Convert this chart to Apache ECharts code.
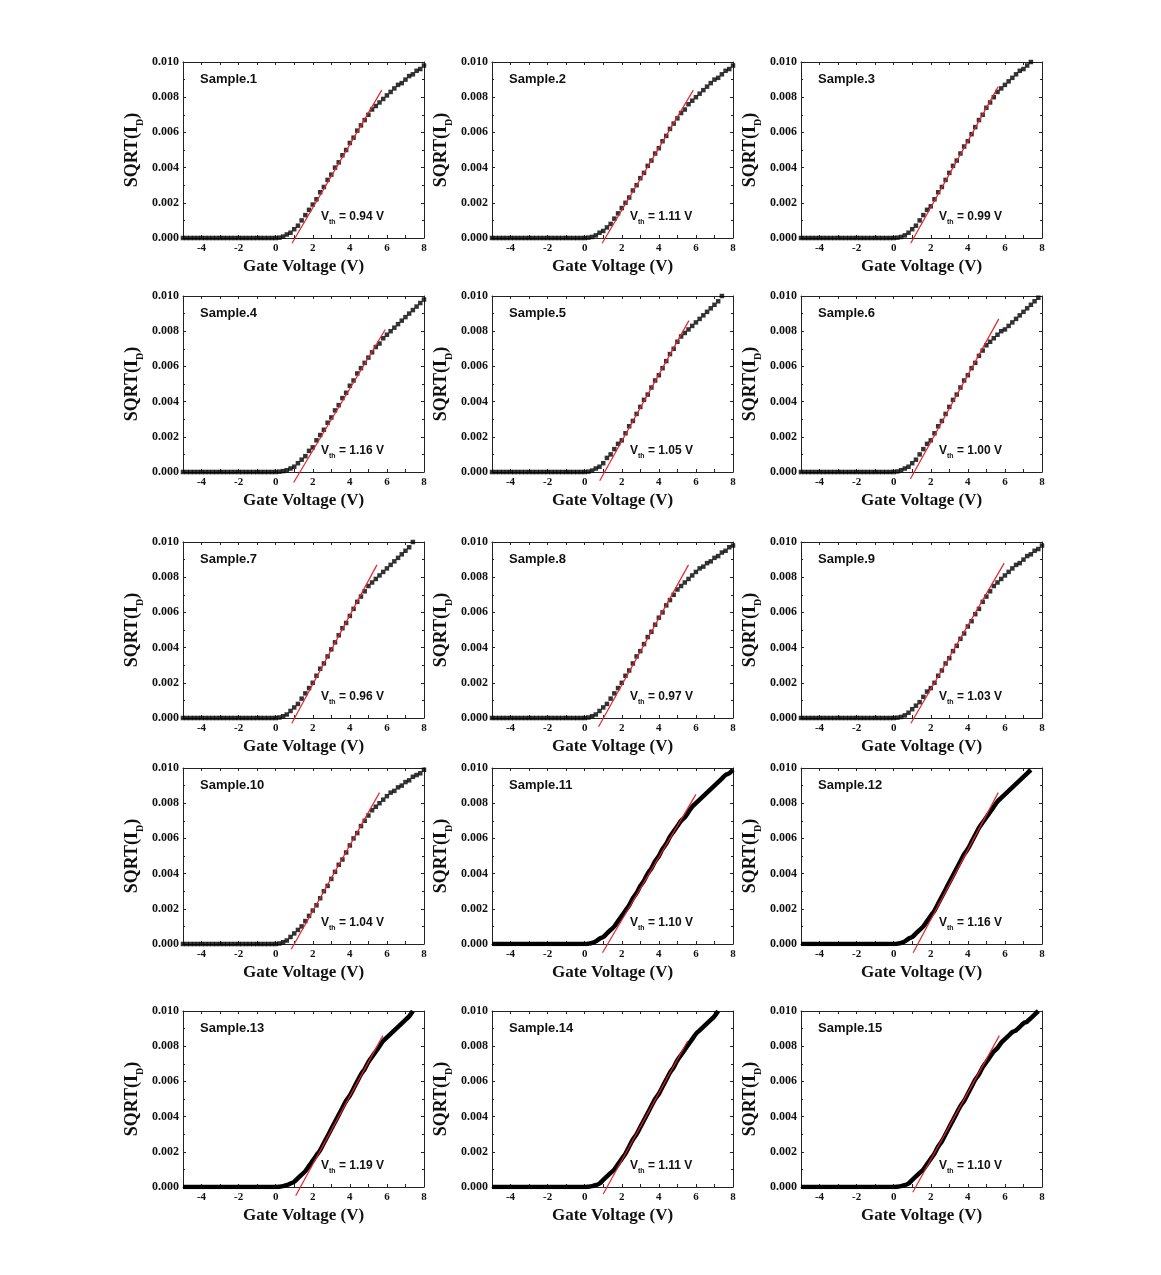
<!DOCTYPE html>
<html>
<head>
<meta charset="utf-8">
<script src="https://cdn.jsdelivr.net/npm/echarts@6/dist/echarts.min.js"></script>
<style>
html,body{margin:0;padding:0;background:#fff;}
#chart{width:1161px;height:1275px;}
</style>
</head>
<body>
<div id="chart"></div>
<script>
// ---------- DATA ----------
const sampleNames = ['Sample.1','Sample.2','Sample.3','Sample.4','Sample.5','Sample.6','Sample.7','Sample.8','Sample.9','Sample.10','Sample.11','Sample.12','Sample.13','Sample.14','Sample.15'];
const vthValues = ['0.94','1.11','0.99','1.16','1.05','1.00','0.96','0.97','1.03','1.04','1.10','1.16','1.19','1.11','1.10'];

const xTickLabels = [-4,-2,0,2,4,6,8];
const yTickLabels = [0.000,0.002,0.004,0.006,0.008,0.010];

// gate voltage grid (V)
const gateVoltage = [-5,-4.8,-4.6,-4.4,-4.2,-4,-3.8,-3.6,-3.4,-3.2,-3,-2.8,-2.6,-2.4,-2.2,-2,-1.8,-1.6,-1.4,-1.2,-1,-0.8,-0.6,-0.4,-0.2,
  0,0.2,0.4,0.6,0.8,1,1.2,1.4,1.6,1.8,2,2.2,2.4,2.6,2.8,3,3.2,3.4,3.6,3.8,4,4.2,4.4,4.6,4.8,5,5.2,5.4,5.6,5.8,6,6.2,6.4,6.6,6.8,7,7.2,7.4,7.6,7.8,8];
// off-state SQRT(ID) for Vg = -5 ... -0.2 V (same for every sample)
const offState = [0,0,0,0,0,0,0,0,0,0,0,0,0,0,0,0,0,0,0,0,0,0,0,0,0];

// on-state SQRT(ID) for Vg = 0 ... 8 V (step 0.2 V)
const sample1 = [0,0.00002,0.00008,0.0002,0.0003,0.0005,0.0007,0.0010,0.0013,0.0016,0.0019,0.0022,0.0026,0.0029,0.0033,0.0036,0.0040,0.0043,0.0047,0.0050,0.0054,0.0057,0.0061,0.0064,0.0067,0.0070,0.0073,0.0075,0.0077,0.0079,0.0081,0.0083,0.0085,0.0087,0.0088,0.0090,0.0092,0.0093,0.0095,0.0096,0.0098];
const sample2 = [0,0.00002,0.00006,0.00015,0.0003,0.0004,0.0006,0.0008,0.0011,0.0014,0.0017,0.0020,0.0023,0.0027,0.0030,0.0034,0.0037,0.0041,0.0044,0.0048,0.0051,0.0055,0.0058,0.0062,0.0065,0.0068,0.0071,0.0073,0.0076,0.0078,0.0080,0.0082,0.0084,0.0086,0.0088,0.0090,0.0091,0.0093,0.0095,0.0096,0.0098];
const sample3 = [0,0.00002,0.00006,0.00015,0.0003,0.0005,0.0007,0.0010,0.0013,0.0016,0.0018,0.0022,0.0026,0.0029,0.0033,0.0037,0.0041,0.0044,0.0048,0.0052,0.0055,0.0059,0.0063,0.0067,0.0070,0.0074,0.0077,0.0080,0.0083,0.0085,0.0087,0.0089,0.0091,0.0093,0.0095,0.0096,0.0098,0.0100,null,null,null];
const sample4 = [0,0.00002,0.00005,0.0001,0.0002,0.0003,0.0005,0.0007,0.0009,0.0012,0.0014,0.0018,0.0021,0.0024,0.0028,0.0031,0.0035,0.0038,0.0042,0.0045,0.0049,0.0052,0.0056,0.0059,0.0062,0.0065,0.0068,0.0071,0.0073,0.0076,0.0078,0.0080,0.0082,0.0084,0.0086,0.0088,0.0090,0.0092,0.0094,0.0096,0.0098];
const sample5 = [0,0.00002,0.00008,0.0002,0.0003,0.0005,0.0008,0.0010,0.0013,0.0016,0.0018,0.0022,0.0026,0.0029,0.0033,0.0037,0.0041,0.0044,0.0048,0.0052,0.0055,0.0059,0.0063,0.0067,0.0070,0.0074,0.0077,0.0079,0.0081,0.0083,0.0085,0.0087,0.0089,0.0091,0.0093,0.0095,0.0097,0.0100,null,null,null];
const sample6 = [0,0.00003,0.0001,0.0002,0.0003,0.0005,0.0007,0.0010,0.0013,0.0016,0.0018,0.0022,0.0026,0.0029,0.0033,0.0037,0.0041,0.0044,0.0048,0.0052,0.0055,0.0059,0.0062,0.0066,0.0069,0.0072,0.0074,0.0076,0.0078,0.0080,0.0081,0.0083,0.0085,0.0087,0.0089,0.0091,0.0093,0.0095,0.0097,0.0099,null];
const sample7 = [0,0.00003,0.0001,0.0002,0.0004,0.0006,0.0008,0.0011,0.0014,0.0017,0.0020,0.0024,0.0028,0.0031,0.0035,0.0039,0.0043,0.0047,0.0051,0.0054,0.0058,0.0062,0.0066,0.0069,0.0072,0.0075,0.0077,0.0079,0.0081,0.0083,0.0085,0.0087,0.0089,0.0091,0.0093,0.0095,0.0097,0.0100,null,null,null];
const sample8 = [0,0.00003,0.0001,0.0002,0.0004,0.0006,0.0008,0.0011,0.0014,0.0017,0.0020,0.0024,0.0027,0.0031,0.0035,0.0038,0.0042,0.0046,0.0049,0.0053,0.0057,0.0060,0.0064,0.0067,0.0070,0.0073,0.0075,0.0077,0.0079,0.0081,0.0083,0.0085,0.0086,0.0088,0.0089,0.0091,0.0092,0.0094,0.0095,0.0097,0.0098];
const sample9 = [0,0.00002,0.00006,0.00015,0.0003,0.0005,0.0007,0.0009,0.0012,0.0015,0.0017,0.0020,0.0024,0.0027,0.0031,0.0034,0.0038,0.0041,0.0045,0.0048,0.0052,0.0055,0.0059,0.0062,0.0066,0.0069,0.0072,0.0075,0.0077,0.0079,0.0081,0.0083,0.0085,0.0087,0.0088,0.0090,0.0092,0.0093,0.0095,0.0096,0.0098];
const sample10 = [0,0.00003,0.0001,0.0002,0.0004,0.0006,0.0008,0.0010,0.0013,0.0016,0.0019,0.0022,0.0026,0.0030,0.0033,0.0037,0.0041,0.0045,0.0048,0.0052,0.0056,0.0060,0.0063,0.0067,0.0070,0.0073,0.0076,0.0078,0.0080,0.0082,0.0084,0.0086,0.0087,0.0089,0.0090,0.0092,0.0093,0.0095,0.0096,0.0097,0.0099];
const sample11 = [0,0.00002,0.00006,0.00015,0.0003,0.0004,0.0006,0.0008,0.0010,0.0013,0.0016,0.0019,0.0022,0.0026,0.0029,0.0033,0.0036,0.0040,0.0043,0.0047,0.0050,0.0054,0.0057,0.0061,0.0064,0.0067,0.0070,0.0072,0.0075,0.0078,0.0080,0.0082,0.0084,0.0086,0.0088,0.0090,0.0092,0.0094,0.0096,0.0097,0.0099];
const sample12 = [0,0.00002,0.00006,0.00015,0.0003,0.0004,0.0006,0.0008,0.0010,0.0013,0.0016,0.0019,0.0023,0.0027,0.0031,0.0035,0.0039,0.0043,0.0047,0.0051,0.0054,0.0058,0.0062,0.0066,0.0069,0.0072,0.0075,0.0078,0.0081,0.0083,0.0085,0.0087,0.0089,0.0091,0.0093,0.0095,0.0097,0.0099,null,null,null];
const sample13 = [0,0.00002,0.00005,0.0001,0.0002,0.0003,0.0005,0.0007,0.0009,0.0012,0.0015,0.0018,0.0021,0.0025,0.0029,0.0033,0.0037,0.0041,0.0045,0.0049,0.0052,0.0056,0.0060,0.0064,0.0067,0.0071,0.0074,0.0077,0.0080,0.0083,0.0085,0.0087,0.0089,0.0091,0.0093,0.0095,0.0097,0.0100,null,null,null];
const sample14 = [0,0.00002,0.00005,0.0001,0.0002,0.0004,0.0006,0.0008,0.0010,0.0013,0.0016,0.0019,0.0023,0.0027,0.0030,0.0034,0.0038,0.0042,0.0046,0.0050,0.0053,0.0057,0.0061,0.0065,0.0068,0.0072,0.0075,0.0078,0.0081,0.0084,0.0087,0.0089,0.0091,0.0093,0.0095,0.0097,0.0100,null,null,null,null];
const sample15 = [0,0.00002,0.00005,0.0001,0.0002,0.0004,0.0006,0.0008,0.0010,0.0013,0.0016,0.0019,0.0023,0.0026,0.0030,0.0034,0.0038,0.0042,0.0046,0.0049,0.0053,0.0057,0.0061,0.0064,0.0068,0.0071,0.0074,0.0077,0.0079,0.0082,0.0084,0.0086,0.0088,0.0089,0.0091,0.0093,0.0094,0.0096,0.0098,0.0100,null];

// linear-fit endpoints [Vg1, y1, Vg2, y2]
const fitLines = [
  [0.88,-0.0003,5.72,0.0084],
  [0.94,-0.0003,5.86,0.0084],
  [0.92,-0.0003,5.64,0.0086],
  [0.97,-0.0006,5.91,0.0081],
  [0.81,-0.0005,5.62,0.0086],
  [0.90,-0.0004,5.67,0.0087],
  [0.87,-0.0003,5.46,0.0087],
  [0.75,-0.0005,5.60,0.0087],
  [0.93,-0.0003,5.96,0.0088],
  [0.84,-0.0003,5.60,0.0086],
  [0.96,-0.0005,6.00,0.0085],
  [1.05,-0.0005,5.64,0.0086],
  [1.08,-0.0005,5.78,0.0086],
  [1.00,-0.0004,5.55,0.0083],
  [1.03,-0.0003,5.70,0.0086]
];

const sampleData = [sample1,sample2,sample3,sample4,sample5,sample6,sample7,sample8,sample9,sample10,sample11,sample12,sample13,sample14,sample15];

// ---------- LAYOUT ----------
const colLeft = [183, 492, 801];
const rowTop = [62, 296, 542, 768, 1011];
const gW = 241, gH = 176;

const serif = 'Liberation Serif, Times New Roman, serif';
const sans = 'Liberation Sans, Arial, sans-serif';
const axisColor = '#222';

const grids = [], xAxes = [], yAxes = [], series = [], graphics = [];

sampleData.forEach((vals, k) => {
  const row = Math.floor(k / 3), col = k % 3;
  const left = colLeft[col], top = rowTop[row];
  grids.push({left: left, top: top, width: gW, height: gH, show: false});

  const xCommon = {
    type: 'value', gridIndex: k, min: -5, max: 8, interval: 1,
    axisLine: {show: true, onZero: false, lineStyle: {color: axisColor, width: 1}},
    axisTick: {show: true, inside: true, length: 3, lineStyle: {color: axisColor}},
    splitLine: {show: false}
  };
  xAxes.push(Object.assign({}, xCommon, {
    position: 'bottom',
    name: 'Gate Voltage (V)', nameLocation: 'middle', nameGap: 20,
    nameTextStyle: {fontFamily: serif, fontWeight: 'bold', fontSize: 17, color: '#111'},
    axisLabel: {
      show: true, margin: 5, fontFamily: serif, fontWeight: 'bold', fontSize: 11, color: '#111',
      formatter: v => (xTickLabels.indexOf(v) >= 0 ? String(v) : '')
    }
  }));
  xAxes.push(Object.assign({}, xCommon, {position: 'top', axisLabel: {show: false}}));

  const yCommon = {
    type: 'value', gridIndex: k, min: 0, max: 0.010, interval: 0.002,
    axisLine: {show: true, onZero: false, lineStyle: {color: axisColor, width: 1}},
    axisTick: {show: true, inside: true, length: 3, lineStyle: {color: axisColor}},
    minorTick: {show: true, splitNumber: 2, length: 2, lineStyle: {color: axisColor}},
    splitLine: {show: false}
  };
  yAxes.push(Object.assign({}, yCommon, {
    position: 'left',
    name: '{a|SQRT(I}{s|D}{a|)}', nameLocation: 'middle', nameGap: 38, nameRotate: 90,
    nameTextStyle: {
      fontFamily: serif, fontWeight: 'bold', fontSize: 18, color: '#111',
      rich: {
        a: {fontFamily: serif, fontWeight: 'bold', fontSize: 18, color: '#111', lineHeight: 18, verticalAlign: 'top'},
        s: {fontFamily: serif, fontWeight: 'bold', fontSize: 10, color: '#111', lineHeight: 22, verticalAlign: 'bottom'}
      }
    },
    axisLabel: {
      show: true, margin: 4, fontFamily: serif, fontWeight: 'bold', fontSize: 12, color: '#111',
      formatter: v => (yTickLabels.some(t => Math.abs(t - v) < 1e-9) ? v.toFixed(3) : '')
    }
  }));
  yAxes.push(Object.assign({}, yCommon, {position: 'right', axisLabel: {show: false}}));

  const pts = gateVoltage.map((x, i) => [x, offState.concat(vals)[i]]).filter(p => p[1] !== null);
  if (k < 10) {
    series.push({
      type: 'scatter', xAxisIndex: 2 * k, yAxisIndex: 2 * k, data: pts,
      symbol: 'rect', symbolSize: 4.5, itemStyle: {color: '#000'}, silent: true, z: 2
    });
  } else {
    series.push({
      type: 'line', xAxisIndex: 2 * k, yAxisIndex: 2 * k, data: pts, smooth: 0.3,
      showSymbol: false, lineStyle: {color: '#000', width: 4.5}, silent: true, z: 2
    });
  }
  const f = fitLines[k];
  series.push({
    type: 'line', xAxisIndex: 2 * k, yAxisIndex: 2 * k,
    data: [[f[0], f[1]], [f[2], f[3]]], clip: false,
    showSymbol: false, lineStyle: {color: '#e8232d', width: 1.2}, silent: true, z: 5
  });

  graphics.push({
    type: 'text', left: left + 17, top: top + 11,
    style: {text: sampleNames[k], font: 'bold 13px ' + sans, fill: '#111'}
  });
  graphics.push({
    type: 'text', left: left + 138, top: top + 149,
    style: {
      text: '{v|V}{s|th}{v| = ' + vthValues[k] + ' V}',
      fill: '#111',
      rich: {
        v: {font: 'bold 12px ' + sans, fill: '#111', lineHeight: 13, verticalAlign: 'top'},
        s: {font: 'bold 7px ' + sans, fill: '#111', lineHeight: 15, verticalAlign: 'bottom'}
      }
    }
  });
});

const chart = echarts.init(document.getElementById('chart'), null, {renderer: 'canvas'});
chart.setOption({
  backgroundColor: '#fff',
  animation: false,
  grid: grids,
  xAxis: xAxes,
  yAxis: yAxes,
  series: series,
  graphic: graphics
});
</script>
</body>
</html>
